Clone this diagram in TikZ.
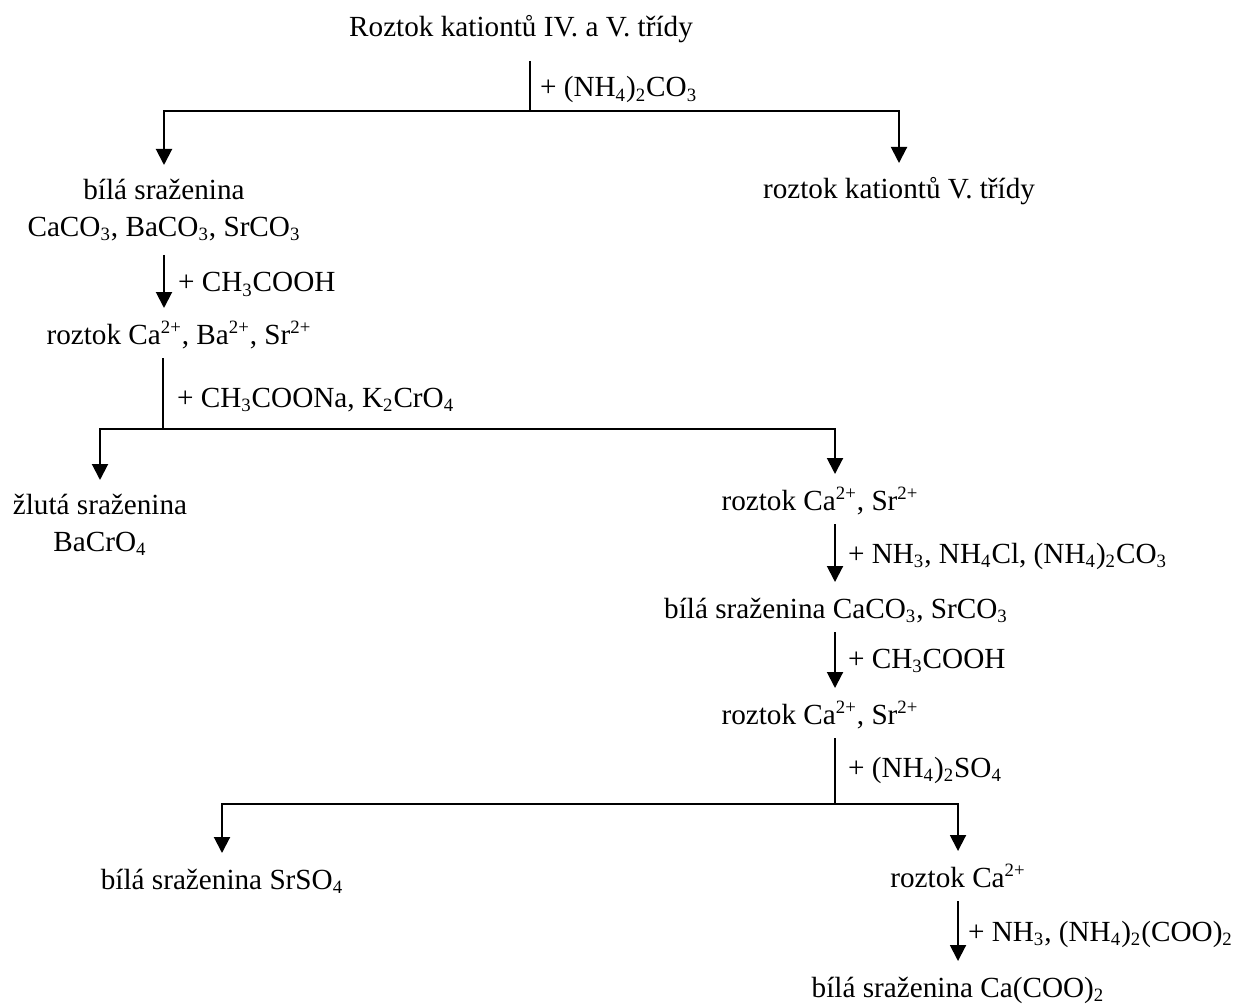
\documentclass[tikz,border=0pt]{standalone}
\usepackage{fontspec}
\setmainfont{Liberation Serif}
\usetikzlibrary{arrows.meta}
\newcommand{\chdn}[1]{\textsubscript{\fontsize{9.4pt}{9.4pt}\selectfont #1}}
\newcommand{\chup}[1]{\textsuperscript{\fontsize{9.4pt}{9.4pt}\selectfont #1}}
\begin{document}
\begin{tikzpicture}[x=0.5pt,y=-0.5pt,line width=1pt,
  every node/.style={font=\fontsize{14.6pt}{18.5pt}\selectfont, inner sep=0pt, outer sep=7pt},
  sub/.style={anchor=base, text height=11pt, text depth=0pt},
  twoline/.style={anchor=north, align=center},
  reag/.style={anchor=base west, outer sep=0pt},
  arr/.style={-{Triangle[length=8pt,width=8pt]}}]
\useasboundingbox (0,0) rectangle (1234,1005);
\node[sub, outer sep=12pt] (top) at (521,37) {Roztok kationtů IV. a V. třídy};
\node[twoline] (bila1) at (164,165) {bílá sraženina\\CaCO\chdn{3}, BaCO\chdn{3}, SrCO\chdn{3}};
\node[sub] (rozV) at (899,199) {roztok kationtů V. třídy};
\node[sub] (roz1) at (179,344) {roztok Ca\chup{2+}, Ba\chup{2+}, Sr\chup{2+}};
\node[twoline] (zluta) at (100,480) {žlutá sraženina\\BaCrO\chdn{4}};
\node[sub] (roz2) at (820,510) {roztok Ca\chup{2+}, Sr\chup{2+}};
\node[sub] (bila2) at (836,618) {bílá sraženina CaCO\chdn{3}, SrCO\chdn{3}};
\node[sub] (roz3) at (820,724) {roztok Ca\chup{2+}, Sr\chup{2+}};
\node[sub] (srso) at (222,889) {bílá sraženina SrSO\chdn{4}};
\node[sub] (roz4) at (958,887) {roztok Ca\chup{2+}};
\node[sub] (caox) at (958,997) {bílá sraženina Ca(COO)\chdn{2}};
\node[reag] (r1) at (540,97) {+ (NH\chdn{4})\chdn{2}CO\chdn{3}};
\node[reag] (r2) at (178,292) {+ CH\chdn{3}COOH};
\node[reag] (r3) at (177,407) {+ CH\chdn{3}COONa, K\chdn{2}CrO\chdn{4}};
\node[reag] (r4) at (848,563) {+ NH\chdn{3}, NH\chdn{4}Cl, (NH\chdn{4})\chdn{2}CO\chdn{3}};
\node[reag] (r5) at (848,668) {+ CH\chdn{3}COOH};
\node[reag] (r6) at (848,777) {+ (NH\chdn{4})\chdn{2}SO\chdn{4}};
\node[reag] (r7) at (968,941) {+ NH\chdn{3}, (NH\chdn{4})\chdn{2}(COO)\chdn{2}};
\coordinate (j1) at (530,111);
\coordinate (j2) at (163,429);
\coordinate (j3) at (835,804);
\draw (j1 |- top.south) -- (j1);
\draw[arr] (j1) -| (bila1.north);
\draw[arr] (j1) -| (rozV.north);
\draw[arr] (bila1.south) -- (bila1.south |- roz1.north);
\draw (j2 |- roz1.south) -- (j2);
\draw[arr] (j2) -| (zluta.north);
\draw[arr] (j2) -| (j3 |- roz2.north);
\draw[arr] (roz2.south -| j3) -- (bila2.north -| j3);
\draw[arr] (bila2.south -| j3) -- (roz3.north -| j3);
\draw (roz3.south -| j3) -- (j3);
\draw[arr] (j3) -| (srso.north);
\draw[arr] (j3) -| (roz4.north);
\draw[arr] (roz4.south) -- (roz4.south |- caox.north);
\end{tikzpicture}
\end{document}
